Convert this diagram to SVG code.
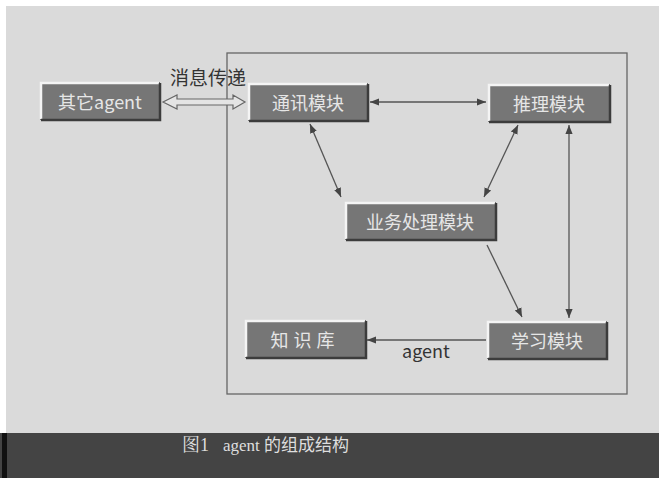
<svg xmlns="http://www.w3.org/2000/svg" width="659" height="478" viewBox="0 0 659 478">
<style>
.nb{fill:#767676}
.hl{fill:none;stroke:#f4f4f4;stroke-width:2.5}
.sh{fill:none;stroke:#3c3c3c;stroke-width:2.5}
.nt{font-family:"Noto Sans CJK SC","Noto Sans",sans-serif;font-size:18px;fill:#e6e6e6;text-anchor:middle;dominant-baseline:central}
.ln{fill:none;stroke:#555;stroke-width:1.3}
.lb{font-family:"Noto Sans CJK SC","Liberation Sans",sans-serif;fill:#333}
</style>
<defs>
<marker id="ah" viewBox="0 0 10 10" refX="10" refY="5" markerWidth="9" markerHeight="9" markerUnits="userSpaceOnUse" orient="auto-start-reverse">
<path d="M0,1 L10,5 L0,9 Z" fill="#444"/>
</marker>
</defs>
<rect x="0" y="0" width="659" height="478" fill="#ffffff"/>
<rect x="6" y="6" width="653" height="430" fill="#dadada"/>
<rect x="0" y="433" width="659" height="45" fill="#444444"/>
<rect x="2" y="433" width="5" height="45" fill="#111"/>
<rect x="227" y="53" width="400" height="341" fill="none" stroke="#666" stroke-width="1.3"/>

<g id="connectors">
<path d="M163,102 L177,95 L177,99 L233,99 L233,95 L245,102 L233,109 L233,105 L177,105 L177,109 Z" fill="#e4e4e4" stroke="#666" stroke-width="1.2"/>
<line class="ln" x1="370" y1="102" x2="486" y2="102" marker-start="url(#ah)" marker-end="url(#ah)"/>
<line class="ln" x1="310" y1="124" x2="341" y2="197" marker-start="url(#ah)" marker-end="url(#ah)"/>
<line class="ln" x1="518" y1="125" x2="484" y2="197" marker-start="url(#ah)" marker-end="url(#ah)"/>
<line class="ln" x1="569" y1="125" x2="569" y2="318" marker-start="url(#ah)" marker-end="url(#ah)"/>
<line class="ln" x1="487" y1="245" x2="522" y2="317" marker-end="url(#ah)"/>
<line class="ln" x1="486" y1="340" x2="367" y2="340" marker-end="url(#ah)"/>
<text class="lb" x="170" y="85" font-size="19" textLength="76">消息传递</text>
<text class="lb" x="402" y="358" font-size="18">agent</text>
</g>

<g id="n_other">
<rect class="nb" x="40" y="82" width="120" height="38"/>
<polyline class="hl" points="41,119 41,83 159,83"/>
<polyline class="sh" points="41,120 160,120 160,83"/>
<text class="nt" x="100" y="101">其它agent</text>
</g>
<g id="n_comm">
<rect class="nb" x="248" y="83" width="120" height="38"/>
<polyline class="hl" points="249,120 249,84 367,84"/>
<polyline class="sh" points="249,121 368,121 368,84"/>
<text class="nt" x="308" y="102">通讯模块</text>
</g>
<g id="n_reason">
<rect class="nb" x="488" y="84" width="122" height="38"/>
<polyline class="hl" points="489,121 489,85 609,85"/>
<polyline class="sh" points="489,122 610,122 610,85"/>
<text class="nt" x="549" y="103">推理模块</text>
</g>
<g id="n_business">
<rect class="nb" x="345" y="202" width="151" height="38"/>
<polyline class="hl" points="346,239 346,203 495,203"/>
<polyline class="sh" points="346,240 496,240 496,203"/>
<text class="nt" x="420" y="221">业务处理模块</text>
</g>
<g id="n_kb">
<rect class="nb" x="245" y="320" width="121" height="38"/>
<polyline class="hl" points="246,357 246,321 365,321"/>
<polyline class="sh" points="246,358 366,358 366,321"/>
<text class="nt" x="305" y="339" letter-spacing="5">知识库</text>
</g>
<g id="n_learn">
<rect class="nb" x="487" y="321" width="120" height="38"/>
<polyline class="hl" points="488,358 488,322 606,322"/>
<polyline class="sh" points="488,359 607,359 607,322"/>
<text class="nt" x="547" y="340">学习模块</text>
</g>

<text x="182" y="451" font-family="'Liberation Serif','Noto Serif CJK SC','Noto Sans CJK SC',serif" font-size="18" fill="#dedede">图1</text>
<text x="223" y="451" font-family="'Liberation Serif','Noto Sans CJK SC',serif" font-size="17" fill="#dedede">agent 的组成结构</text>
</svg>
